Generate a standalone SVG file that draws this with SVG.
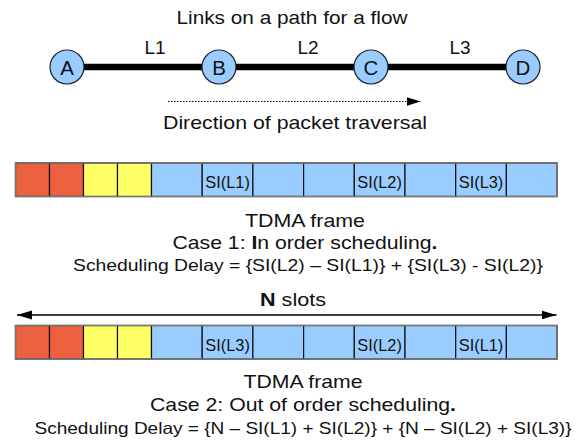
<svg xmlns="http://www.w3.org/2000/svg" width="584" height="443" viewBox="0 0 584 443">
<style>
text{font-family:"Liberation Sans",Arial,sans-serif;fill:#111}
.t{font-size:19px;text-anchor:middle}
.c{font-size:18.5px;text-anchor:middle}
.s{font-size:16.5px;text-anchor:middle}
.cl{font-size:16.5px;text-anchor:middle}
.cell{stroke:#111;stroke-width:1.2}
.r{fill:#EB6140}.y{fill:#FFFF66}.b{fill:#99CCFF}
.node{fill:#99CCFF;stroke:#222;stroke-width:1.2}
.lbl{font-size:19px;text-anchor:middle}
.nl{font-size:20.5px;text-anchor:middle}
</style>
<defs>
<marker id="ah" markerWidth="14" markerHeight="10" refX="14" refY="5" orient="auto" markerUnits="userSpaceOnUse" viewBox="0 0 14 10">
<path d="M0,0.5 L14,5 L0,9.5 Z" fill="#000"/>
</marker>
<marker id="ah2" markerWidth="15" markerHeight="10" refX="15" refY="5" orient="auto-start-reverse" markerUnits="userSpaceOnUse" viewBox="0 0 15 10">
<path d="M0,0.5 L15,5 L0,9.5 Z" fill="#000"/>
</marker>
</defs>

<text class="t" x="292" y="24" textLength="231" lengthAdjust="spacingAndGlyphs">Links on a path for a flow</text>

<g id="connectors">
<line x1="67" y1="67" x2="523" y2="67" stroke="#000" stroke-width="6.5"/>
<line x1="168" y1="101.5" x2="420.5" y2="101.5" stroke="#000" stroke-width="1.2" stroke-dasharray="1.5,1.5" marker-end="url(#ah)"/>
<line x1="17" y1="315" x2="556.5" y2="315" stroke="#000" stroke-width="1.5" marker-start="url(#ah2)" marker-end="url(#ah2)"/>
</g>
<text class="lbl" x="155" y="54">L1</text>
<text class="lbl" x="308" y="54">L2</text>
<text class="lbl" x="460" y="54">L3</text>

<g id="nodeA"><circle class="node" cx="67" cy="67" r="17"/><text class="nl" x="67" y="74.5">A</text></g>
<g id="nodeB"><circle class="node" cx="219" cy="67" r="17"/><text class="nl" x="219" y="74.5">B</text></g>
<g id="nodeC"><circle class="node" cx="371" cy="67" r="17"/><text class="nl" x="371" y="74.5">C</text></g>
<g id="nodeD"><circle class="node" cx="523" cy="67" r="17"/><text class="nl" x="523" y="74.5">D</text></g>

<text class="t" x="295" y="129" textLength="264" lengthAdjust="spacingAndGlyphs">Direction of packet traversal</text>

<g id="frame1">
<rect class="cell r" x="15.5" y="163" width="34" height="33.5"/>
<rect class="cell r" x="49.5" y="163" width="34" height="33.5"/>
<rect class="cell y" x="83.5" y="163" width="34" height="33.5"/>
<rect class="cell y" x="117.5" y="163" width="34" height="33.5"/>
<rect class="cell b" x="151.5" y="163" width="50.7" height="33.5"/>
<rect class="cell b" x="202.2" y="163" width="50.7" height="33.5"/>
<rect class="cell b" x="252.9" y="163" width="50.7" height="33.5"/>
<rect class="cell b" x="303.6" y="163" width="50.7" height="33.5"/>
<rect class="cell b" x="354.3" y="163" width="50.7" height="33.5"/>
<rect class="cell b" x="405" y="163" width="50.7" height="33.5"/>
<rect class="cell b" x="455.7" y="163" width="50.7" height="33.5"/>
<rect class="cell b" x="506.4" y="163" width="50.6" height="33.5"/>
<rect x="15.5" y="163" width="541.5" height="33.5" fill="none" stroke="#777" stroke-width="1.5"/>
<text class="cl" x="227.6" y="188.3" textLength="44.5" lengthAdjust="spacingAndGlyphs">SI(L1)</text>
<text class="cl" x="379.6" y="188.3" textLength="44.5" lengthAdjust="spacingAndGlyphs">SI(L2)</text>
<text class="cl" x="481" y="188.3" textLength="44.5" lengthAdjust="spacingAndGlyphs">SI(L3)</text>
</g>

<text class="t" x="305" y="226.5" textLength="120" lengthAdjust="spacingAndGlyphs">TDMA frame</text>
<text class="c" x="305" y="249" textLength="265" lengthAdjust="spacingAndGlyphs">Case 1: <tspan font-weight="bold">I</tspan>n order scheduling<tspan font-weight="bold">.</tspan></text>
<text class="s" x="308" y="271" textLength="470" lengthAdjust="spacingAndGlyphs">Scheduling Delay = {SI(L2) – SI(L1)} + {SI(L3) - SI(L2)}</text>

<text class="t" x="293" y="306" textLength="66" lengthAdjust="spacingAndGlyphs"><tspan font-weight="bold">N</tspan> slots</text>

<g id="frame2">
<rect class="cell r" x="15.5" y="325.5" width="34" height="33.5"/>
<rect class="cell r" x="49.5" y="325.5" width="34" height="33.5"/>
<rect class="cell y" x="83.5" y="325.5" width="34" height="33.5"/>
<rect class="cell y" x="117.5" y="325.5" width="34" height="33.5"/>
<rect class="cell b" x="151.5" y="325.5" width="50.7" height="33.5"/>
<rect class="cell b" x="202.2" y="325.5" width="50.7" height="33.5"/>
<rect class="cell b" x="252.9" y="325.5" width="50.7" height="33.5"/>
<rect class="cell b" x="303.6" y="325.5" width="50.7" height="33.5"/>
<rect class="cell b" x="354.3" y="325.5" width="50.7" height="33.5"/>
<rect class="cell b" x="405" y="325.5" width="50.7" height="33.5"/>
<rect class="cell b" x="455.7" y="325.5" width="50.7" height="33.5"/>
<rect class="cell b" x="506.4" y="325.5" width="50.6" height="33.5"/>
<rect x="15.5" y="325.5" width="541.5" height="33.5" fill="none" stroke="#777" stroke-width="1.5"/>
<text class="cl" x="227.6" y="350.8" textLength="44.5" lengthAdjust="spacingAndGlyphs">SI(L3)</text>
<text class="cl" x="379.6" y="350.8" textLength="44.5" lengthAdjust="spacingAndGlyphs">SI(L2)</text>
<text class="cl" x="481" y="350.8" textLength="44.5" lengthAdjust="spacingAndGlyphs">SI(L1)</text>
</g>

<text class="t" x="303" y="388" textLength="119" lengthAdjust="spacingAndGlyphs">TDMA frame</text>
<text class="c" x="303" y="410.5" textLength="306" lengthAdjust="spacingAndGlyphs">Case 2: Out of order scheduling<tspan font-weight="bold">.</tspan></text>
<text class="s" x="303" y="433.5" textLength="537" lengthAdjust="spacingAndGlyphs">Scheduling Delay =  {N – SI(L1) + SI(L2)} + {N – SI(L2) + SI(L3)}</text>
</svg>
